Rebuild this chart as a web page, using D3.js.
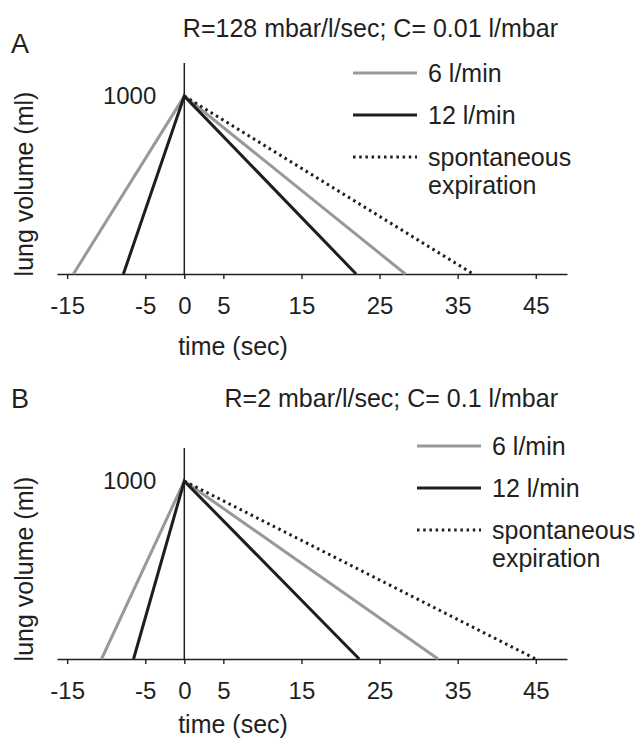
<!DOCTYPE html>
<html>
<head>
<meta charset="utf-8">
<script src="https://cdn.jsdelivr.net/npm/d3@7"></script>
<style>
  body { margin: 0; background: #fff; }
  text { font-family: "Liberation Sans", Arial, sans-serif; fill: #231f20; }
</style>
</head>
<body>
<div id="chart"></div>
<script>
// Time ticks shared by both panels
const timeTicks = [-15, -5, 0, 5, 15, 25, 35, 45];
const seriesNames = ["6 l/min", "12 l/min", "spontaneous expiration"];
const peakVolume = 1000;

// Panel A: R=128, C=0.01  (time sec, volume ml)
const panelA6 = [[-14.2, 0], [0, 1000], [28.3, 0]];
const panelA12 = [[-7.8, 0], [0, 1000], [22.0, 0]];
const panelASpont = [[0, 1000], [37.0, 0]];

// Panel B: R=2, C=0.1
const panelB6 = [[-10.6, 0], [0, 1000], [32.5, 0]];
const panelB12 = [[-6.5, 0], [0, 1000], [22.4, 0]];
const panelBSpont = [[0, 1000], [45.0, 0]];

const titles = ["R=128 mbar/l/sec; C= 0.01 l/mbar", "R=2 mbar/l/sec; C= 0.1 l/mbar"];
const panelLetters = ["A", "B"];

const width = 638, height = 740;
const svg = d3.select("#chart").append("svg")
  .attr("width", width)
  .attr("height", height);

// styles for the three series
const styles = [
  { stroke: "#999999", dash: null },
  { stroke: "#1e1e1e", dash: null },
  { stroke: "#1e1e1e", dash: "2.5,3.7" }
];

function drawPanel(opts) {
  const g = svg.append("g").attr("transform", `translate(0,${opts.top})`);

  // scales
  const x = d3.scaleLinear().domain([-16.3, 49]).range([57, 567]);
  const y = d3.scaleLinear().domain([0, 1186]).range([274, 63]);

  // panel letter + title
  g.append("text")
    .attr("x", 11)
    .attr("y", opts.letterY)
    .style("font-size", "27px")
    .text(opts.letter);

  g.append("text")
    .attr("x", 558)
    .attr("y", opts.titleY)
    .style("font-size", "25px")
    .style("text-anchor", "end")
    .text(opts.title);

  // x axis
  const xAxis = g.append("g")
    .attr("transform", `translate(0,${y(0)})`)
    .call(d3.axisBottom(x)
      .tickValues(timeTicks)
      .tickFormat(d => String(d))
      .tickSize(5).tickSizeOuter(0).tickPadding(18));
  xAxis.select(".domain").attr("stroke", "#231f20").attr("stroke-width", 1.6);
  xAxis.selectAll(".tick line").attr("stroke", "#231f20").attr("stroke-width", 1.4);
  xAxis.selectAll(".tick text")
    .style("font-size", "24px")
    .style("font-family", "Liberation Sans, Arial, sans-serif")
    .attr("fill", "#231f20");

  // vertical line at time 0
  g.append("line")
    .attr("x1", x(0)).attr("x2", x(0))
    .attr("y1", y.range()[1]).attr("y2", y(0))
    .attr("stroke", "#231f20")
    .attr("stroke-width", 1.5);

  // 1000 label
  g.append("text")
    .attr("x", x(0) - 28)
    .attr("y", y(peakVolume))
    .attr("dy", "0.35em")
    .style("font-size", "24px")
    .style("text-anchor", "end")
    .text(peakVolume);

  // y axis label
  g.append("text")
    .attr("transform", "rotate(-90)")
    .attr("x", -184)
    .attr("y", 24)
    .attr("dy", "0.35em")
    .style("text-anchor", "middle")
    .style("font-size", "25px")
    .text("lung volume (ml)");

  // x axis label
  g.append("text")
    .attr("x", 233)
    .attr("y", opts.xLabelY)
    .attr("dy", "0.35em")
    .style("text-anchor", "middle")
    .style("font-size", "25px")
    .text("time (sec)");

  // lines
  const line = d3.line()
    .x(d => x(d[0]))
    .y(d => y(d[1]));

  opts.series.forEach((data, i) => {
    g.append("path")
      .datum(data)
      .attr("d", line)
      .attr("fill", "none")
      .attr("stroke", styles[i].stroke)
      .attr("stroke-width", 3)
      .attr("stroke-dasharray", styles[i].dash)
      .attr("stroke-linejoin", "miter");
  });

  // legend
  const legend = g.append("g").attr("transform", `translate(${opts.legendX},${opts.legendY})`);
  const rowY = [0, 42, 84];
  seriesNames.forEach((name, i) => {
    legend.append("line")
      .attr("x1", 0).attr("x2", 64)
      .attr("y1", rowY[i]).attr("y2", rowY[i])
      .attr("stroke", styles[i].stroke)
      .attr("stroke-width", 3)
      .attr("stroke-dasharray", styles[i].dash);

    const words = i === 2 ? name.split(" ") : [name];
    words.forEach((w, j) => {
      legend.append("text")
        .attr("x", 75)
        .attr("y", rowY[i] + j * 28)
        .attr("dy", "0.35em")
        .style("font-size", "25px")
        .text(w);
    });
  });
}

drawPanel({
  top: 0, letter: panelLetters[0], title: titles[0],
  letterY: 53, titleY: 37, xLabelY: 346,
  legendX: 353, legendY: 73,
  series: [panelA6, panelA12, panelASpont]
});

drawPanel({
  top: 385, letter: panelLetters[1], title: titles[1],
  letterY: 23, titleY: 22, xLabelY: 339,
  legendX: 417, legendY: 61,
  series: [panelB6, panelB12, panelBSpont]
});
</script>
</body>
</html>
